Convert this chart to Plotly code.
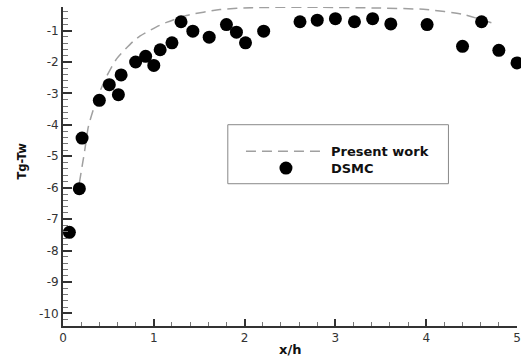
import plotly.graph_objects as go

# Present work (dashed curve)
present_x = [0.18, 0.24, 0.28, 0.37, 0.48, 0.59, 0.77, 0.85, 1.03, 1.14, 1.36, 1.73, 2.09, 2.83, 3.41, 4.0, 4.41, 4.78]
present_y = [-5.85, -4.8, -4.05, -3.2, -2.46, -1.9, -1.35, -1.17, -0.88, -0.74, -0.52, -0.33, -0.27, -0.26, -0.28, -0.33, -0.49, -0.81]

# DSMC points
dsmc_x = [0.07, 0.18, 0.21, 0.40, 0.51, 0.61, 0.64, 0.80, 0.91, 1.00, 1.07, 1.20, 1.30,
          1.43, 1.61, 1.80, 1.91, 2.01, 2.21, 2.61, 2.80, 3.00, 3.21, 3.41, 3.61,
          4.01, 4.40, 4.61, 4.80, 5.00]
dsmc_y = [-7.42, -6.03, -4.42, -3.22, -2.72, -3.04, -2.41, -2.0, -1.82, -2.11, -1.61, -1.39, -0.72,
          -1.02, -1.21, -0.81, -1.05, -1.39, -1.02, -0.72, -0.67, -0.62, -0.72, -0.62, -0.79,
          -0.81, -1.50, -0.72, -1.63, -2.03]

x_ticks = [0, 1, 2, 3, 4, 5]
y_ticks = [-1, -2, -3, -4, -5, -6, -7, -8, -9, -10]

axis_col = "#333333"
font_fam = "DejaVu Sans, Verdana, sans-serif"

fig = go.Figure()
fig.add_trace(go.Scatter(
    x=present_x, y=present_y, mode="lines", name="Present work", legend="legend",
    line=dict(color="#a0a0a0", width=1.5, dash="10px,6px", shape="spline", smoothing=0.6),
    cliponaxis=False,
))
fig.add_trace(go.Scatter(
    x=dsmc_x, y=dsmc_y, mode="markers", name="DSMC", legend="legend2",
    marker=dict(color="black", size=13, symbol="circle"),
    cliponaxis=False,
))

legend_common = dict(
    xanchor="left", yanchor="top",
    bgcolor="rgba(0,0,0,0)", borderwidth=0,
    itemwidth=80, tracegroupgap=0,
    font=dict(family=font_fam, size=13, color="#111111", weight="bold"),
)

fig.update_layout(
    width=521, height=358,
    margin=dict(l=63, r=4, t=7, b=32, autoexpand=False),
    paper_bgcolor="white", plot_bgcolor="white",
    font=dict(family=font_fam, size=12, color=axis_col),
    showlegend=True,
    legend=dict(x=0.392, y=0.595, **legend_common),
    legend2=dict(x=0.392, y=0.542, **legend_common),
    shapes=[dict(type="rect", xref="paper", yref="paper",
                 x0=0.363, x1=0.849, y0=0.446, y1=0.631,
                 line=dict(color="#888888", width=1), fillcolor="rgba(0,0,0,0)")],
    annotations=[
        dict(text="x/h", xref="paper", yref="paper", x=0.5, y=0, xanchor="center", yanchor="middle",
             yshift=-23, showarrow=False,
             font=dict(family=font_fam, size=13, color="#111111", weight="bold")),
        dict(text="Tg-Tw", xref="paper", yref="paper", x=0, y=0.5, xanchor="center", yanchor="middle",
             xshift=-42, yshift=5, textangle=-90, showarrow=False,
             font=dict(family=font_fam, size=11.5, color="#111111", weight="bold")),
    ],
)

fig.update_xaxes(
    range=[0, 5], tickvals=x_ticks, ticktext=[str(v) for v in x_ticks],
    automargin=False,
    showline=True, linecolor=axis_col, linewidth=2, mirror=False,
    ticks="inside", ticklen=7, tickwidth=2, tickcolor=axis_col,
    minor=dict(ticks="inside", ticklen=4, dtick=0.2, tick0=0, tickwidth=1, tickcolor="#777777", showgrid=False),
    showgrid=False, zeroline=False,
    tickfont=dict(family=font_fam, size=12, color=axis_col),
)
fig.update_yaxes(
    range=[-10.4, -0.25], tickvals=y_ticks, ticktext=[str(v) for v in y_ticks],
    automargin=False,
    showline=True, linecolor=axis_col, linewidth=2, mirror=False,
    ticks="inside", ticklen=9, tickwidth=2, tickcolor=axis_col,
    minor=dict(ticks="inside", ticklen=5, dtick=0.2, tick0=0, tickwidth=1, tickcolor="#777777", showgrid=False),
    showgrid=False, zeroline=False,
    tickfont=dict(family=font_fam, size=12, color=axis_col),
)

fig.write_html("out.html", config={"displayModeBar": False},
               post_script="document.body.style.margin='0';document.body.style.overflow='hidden';")
